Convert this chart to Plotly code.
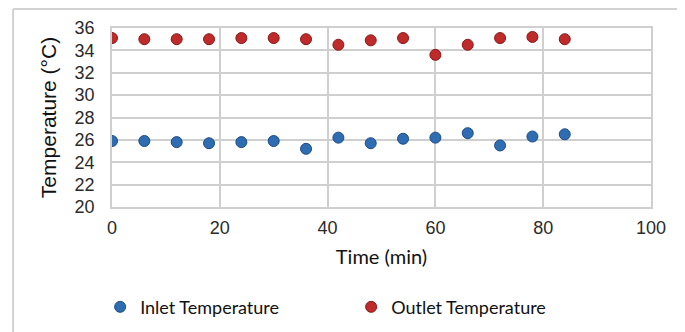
import plotly.graph_objects as go

time_min = [0, 6, 12, 18, 24, 30, 36, 42, 48, 54, 60, 66, 72, 78, 84]
inlet_temp = [25.9, 25.9, 25.8, 25.7, 25.8, 25.9, 25.2, 26.2, 25.7, 26.1, 26.2, 26.6, 25.5, 26.3, 26.5]
outlet_temp = [35.1, 35.0, 35.0, 35.0, 35.1, 35.1, 35.0, 34.5, 34.9, 35.1, 33.6, 34.5, 35.1, 35.2, 35.0]
x_ticks = [0, 20, 40, 60, 80, 100]
y_ticks = [20, 22, 24, 26, 28, 30, 32, 34, 36]

fig = go.Figure()
fig.add_trace(go.Scatter(
    x=time_min, y=inlet_temp, mode="markers", name="Inlet Temperature",
    marker=dict(size=11, color="#2f6db3", line=dict(color="#1d4a85", width=1)),
))
fig.add_trace(go.Scatter(
    x=time_min, y=outlet_temp, mode="markers", name="Outlet Temperature",
    marker=dict(size=11, color="#bf2a2a", line=dict(color="#8a1818", width=1)),
))

tick_font = dict(family="Liberation Sans, Arial, sans-serif", size=18, color="#2a2a2a")
grid = "#cfcfcf"

fig.update_xaxes(
    range=[0, 100], tickvals=x_ticks, ticktext=[str(v) for v in x_ticks],
    showgrid=True, gridcolor=grid, gridwidth=1.5,
    showline=True, linecolor=grid, linewidth=1.5, mirror=True,
    zeroline=False, tickfont=tick_font, ticks="", ticklabelstandoff=4,
    automargin=False,
    title=dict(text="Time (min)", font=dict(family="Lato, sans-serif", size=20, color="#111111"), standoff=13),
)
fig.update_yaxes(
    range=[20, 36], tickvals=y_ticks, ticktext=[str(v) for v in y_ticks],
    showgrid=True, gridcolor=grid, gridwidth=1.5,
    showline=True, linecolor=grid, linewidth=1.5, mirror=True,
    zeroline=False, tickfont=tick_font, ticks="", ticklabelstandoff=12,
    automargin=False,
    title=dict(text="Temperature (°C)", font=dict(family="Liberation Sans, Arial, sans-serif", size=21, color="#111111"), standoff=12),
)

# outer frame (light gray) at top and left
fig.add_shape(type="line", xref="paper", yref="paper", x0=-0.1835, x1=1.07, y0=1.106, y1=1.106,
              line=dict(color="#d2d2d2", width=2))
fig.add_shape(type="line", xref="paper", yref="paper", x0=-0.1835, x1=-0.1835, y0=1.106, y1=-0.7,
              line=dict(color="#d2d2d2", width=2))

fig.update_layout(
    width=677, height=324,
    margin=dict(l=104, r=33.5, t=20, b=125, autoexpand=False),
    paper_bgcolor="white", plot_bgcolor="white",
    showlegend=True,
    legend=dict(
        orientation="h", x=-0.022, y=-0.456, xanchor="left", yanchor="top",
        font=dict(family="Lato, sans-serif", size=18, color="#111111"),
        entrywidth=206, entrywidthmode="pixels", itemwidth=30,
        bgcolor="rgba(0,0,0,0)",
    ),
)

fig.write_html("out.html")
